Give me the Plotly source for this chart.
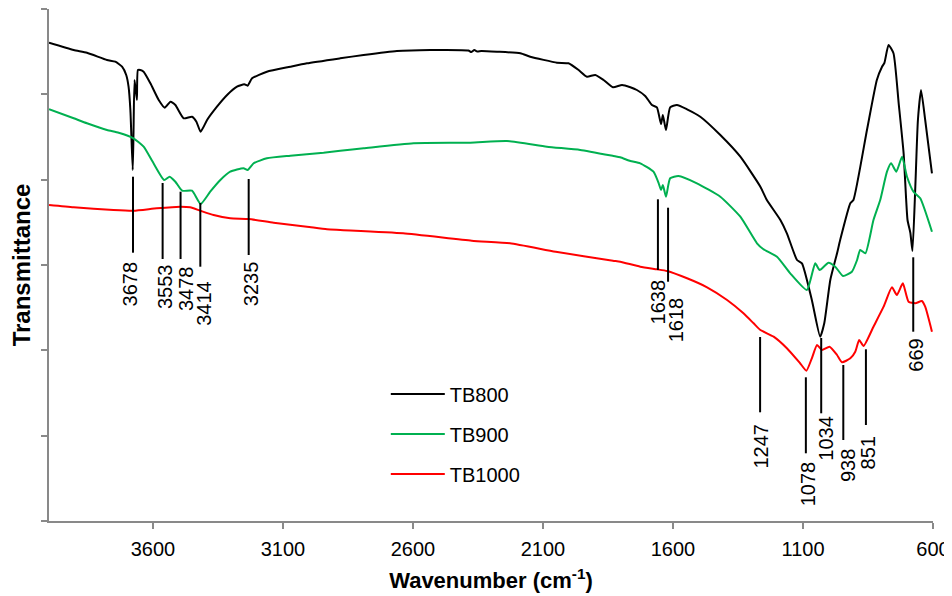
import plotly.graph_objects as go

# ---------------- data (wavenumber cm-1, transmittance a.u.) ----------------
tb800_wn = [4000, 3905, 3854, 3777, 3745, 3719, 3703, 3694, 3687, 3678, 3675, 3671, 3662, 3658,
            3649, 3636, 3610, 3578, 3555, 3533, 3514, 3482, 3450, 3433, 3417, 3392, 3354, 3315,
            3277, 3249, 3236, 3219, 3162, 3072, 3008, 2880, 2790, 2662, 2534, 2387, 2376, 2364,
            2353, 2337, 2277, 2187, 2149, 2046, 2002, 1963, 1931, 1899, 1867, 1831, 1796, 1764,
            1739, 1707, 1681, 1662, 1646, 1639, 1627, 1611, 1585, 1546, 1495, 1418, 1341, 1264,
            1239, 1187, 1162, 1123, 1104, 1066, 1034, 1018, 995, 969, 957, 918, 906, 854, 816,
            796, 787, 771, 752, 732, 713, 698, 687, 679, 668, 658, 646, 630, 604]
tb800_t = [478.3, 471, 468.3, 461, 459.3, 454.3, 446, 434.3, 411, 351, 388, 441, 421, 451,
           451, 449.3, 437.7, 421, 413.3, 419.3, 416, 402.7, 404.3, 399.3, 389.3, 401, 414.3, 426,
           434.3, 436.7, 435.3, 442.7, 449.3, 454.3, 457.7, 462.7, 466, 470, 471, 470.5, 469, 471,
           469.5, 470, 469.3, 467.7, 464.3, 458.3, 457.7, 451, 444.3, 446, 441, 433.7, 436, 433.7,
           431, 425, 416, 413.7, 397, 406, 391, 413.7, 416, 411.7, 404.3, 386, 364.3, 334.3,
           321, 301, 287.7, 261, 257.7, 221, 184.3, 198, 241, 267.7, 281, 317.7, 321, 391, 441,
           454.3, 458, 476, 467.7, 417.7, 367.7, 301, 288, 270, 334.3, 401, 431, 401, 347.7]

tb900_wn = [4000, 3905, 3854, 3777, 3732, 3675, 3636, 3598, 3557, 3536, 3514, 3488, 3450, 3417,
            3380, 3341, 3303, 3252, 3236, 3213, 3162, 3072, 2944, 2880, 2790, 2598, 2380, 2239,
            2085, 1957, 1829, 1803, 1764, 1726, 1675, 1655, 1646, 1639, 1627, 1611, 1579, 1508,
            1418, 1341, 1277, 1252, 1200, 1149, 1085, 1053, 1036, 1002, 976, 946, 912, 892, 880,
            860, 829, 803, 777, 761, 741, 719, 700, 675, 649, 604]
tb900_t = [411.7, 402.7, 397.7, 391, 388.3, 382.7, 374.3, 357.7, 341, 344.3, 339.3, 330.3, 330.3, 317,
           329.3, 341, 349.3, 352.7, 351, 357.7, 362.7, 365.3, 368.3, 370.3, 372.7, 377.7, 378.3, 380,
           374.3, 371, 365, 363.7, 360, 357.7, 349.3, 337.7, 331, 336, 324.3, 342.7, 345, 337.7,
           324.3, 304.3, 277.7, 271.7, 264.3, 247.7, 231, 257.7, 251, 258.3, 254.3, 245, 249.3, 261, 271,
           267.7, 301, 321, 349.3, 357.7, 349.3, 364.3, 344.3, 329.3, 322.7, 289.3]

tb1000_wn = [4000, 3905, 3752, 3675, 3585, 3495, 3457, 3418, 3367, 3303, 3232, 3136, 3008, 2931,
             2880, 2638, 2374, 2227, 2051, 1831, 1803, 1726, 1662, 1623, 1546, 1469, 1392, 1329,
             1290, 1264, 1213, 1162, 1111, 1087, 1066, 1046, 1027, 998, 969, 950, 918, 899, 884,
             867, 829, 790, 758, 739, 716, 694, 668, 643, 630, 604]
tb1000_t = [316, 313.7, 311, 310.3, 312.7, 314.3, 313.7, 310.3, 306, 302.7, 302, 298.3, 294.3, 291.7,
            291, 287.7, 280.3, 277.7, 269.3, 260.3, 259.3, 254.3, 251.7, 250, 242.7, 233.7, 221, 207.7,
            197.7, 191, 184.3, 172.7, 157.7, 150.3, 162.7, 176, 171, 174.3, 166, 158.7, 162.7, 169.3, 181,
            175, 194.3, 214.3, 233.7, 226, 237.7, 219.3, 217.7, 220, 214.3, 189.3]

series_names = ["TB800", "TB900", "TB1000"]
series_colors = ["#000000", "#00B050", "#FF0000"]

# peak labels and where their marker lines stand on the wavenumber axis
peak_labels = ["3678", "3553", "3478", "3414", "3235", "1638", "1618",
               "1247", "1078", "1034", "938", "851", "669"]
peak_pos = [3677, 3563, 3494, 3418, 3232, 1658, 1619, 1265, 1089, 1030, 945, 858, 676]
peak_line_top = [344.3, 338, 329.3, 318, 342, 321.7, 313.3, 184, 143.7, 183, 156, 171.7, 263.7]
peak_line_bottom = [268.3, 262, 262, 254.3, 266, 251, 239.3, 108.7, 67.7, 107.7, 81, 96, 189.3]
peak_text_top = [261, 258, 256, 241, 261, 243, 224.3, 98, 61, 106, 72.7, 86, 183]
peak_text_xshift = [-3, 2, 5, 3, 2, 0, 8, 0, 2, 4, 4, 2, 2]

x_tick_vals = [3600, 3100, 2600, 2100, 1600, 1100, 600]
x_tick_text = ["3600", "3100", "2600", "2100", "1600", "1100", "600"]

FONT = "Liberation Sans, Arial, sans-serif"
AXIS_COLOR = "#898989"

fig = go.Figure()
for i, (wn, t) in enumerate([(tb800_wn, tb800_t), (tb900_wn, tb900_t), (tb1000_wn, tb1000_t)]):
    fig.add_trace(go.Scatter(
        x=wn, y=t, mode="lines", name=series_names[i], legendgroup=series_names[i],
        line=dict(color=series_colors[i], width=2, shape="spline", smoothing=0.5),
    ))

for lab, xp, yt, yb, ytx, dx in zip(peak_labels, peak_pos, peak_line_top, peak_line_bottom,
                                    peak_text_top, peak_text_xshift):
    fig.add_shape(type="line", xref="x", yref="y", x0=xp, x1=xp, y0=yb, y1=yt,
                  line=dict(color="#000000", width=2))
    fig.add_annotation(x=xp, y=ytx, xref="x", yref="y", text=lab, showarrow=False,
                       textangle=-90, xanchor="center", yanchor="top", xshift=dx,
                       font=dict(family=FONT, size=20, color="#000000"), borderpad=0)

# the page places the figure 8 px from its top-left corner
fig.update_layout(
    width=944, height=588,
    margin=dict(l=41, r=19, t=1, b=75),
    paper_bgcolor="white", plot_bgcolor="white",
    font=dict(family=FONT, size=20, color="#000000"),
    showlegend=True,
    legend=dict(x=0.381, y=0.286, xanchor="left", yanchor="top",
                bgcolor="rgba(0,0,0,0)", font=dict(size=20), tracegroupgap=11,
                itemwidth=54),
    xaxis=dict(
        range=[4000, 600], showgrid=False, zeroline=False, automargin=False,
        showline=True, linecolor=AXIS_COLOR, linewidth=1.5,
        ticks="outside", ticklen=6, tickcolor=AXIS_COLOR, tickwidth=1.5,
        tickvals=x_tick_vals, ticktext=x_tick_text, ticklabelstandoff=3,
        tickfont=dict(size=20),
        title=dict(text="<b>Wavenumber (cm<sup>-1</sup>)</b>", font=dict(size=22), standoff=14),
    ),
    yaxis=dict(
        range=[0, 512], showgrid=False, zeroline=False, automargin=False,
        showline=True, linecolor=AXIS_COLOR, linewidth=1.5,
        ticks="outside", ticklen=6, tickcolor=AXIS_COLOR, tickwidth=1.5,
        tick0=0, dtick=512 / 6, showticklabels=False,
        title=dict(text="<b>Transmittance</b>", font=dict(size=24), standoff=16),
    ),
)

fig.write_html("out.html")
